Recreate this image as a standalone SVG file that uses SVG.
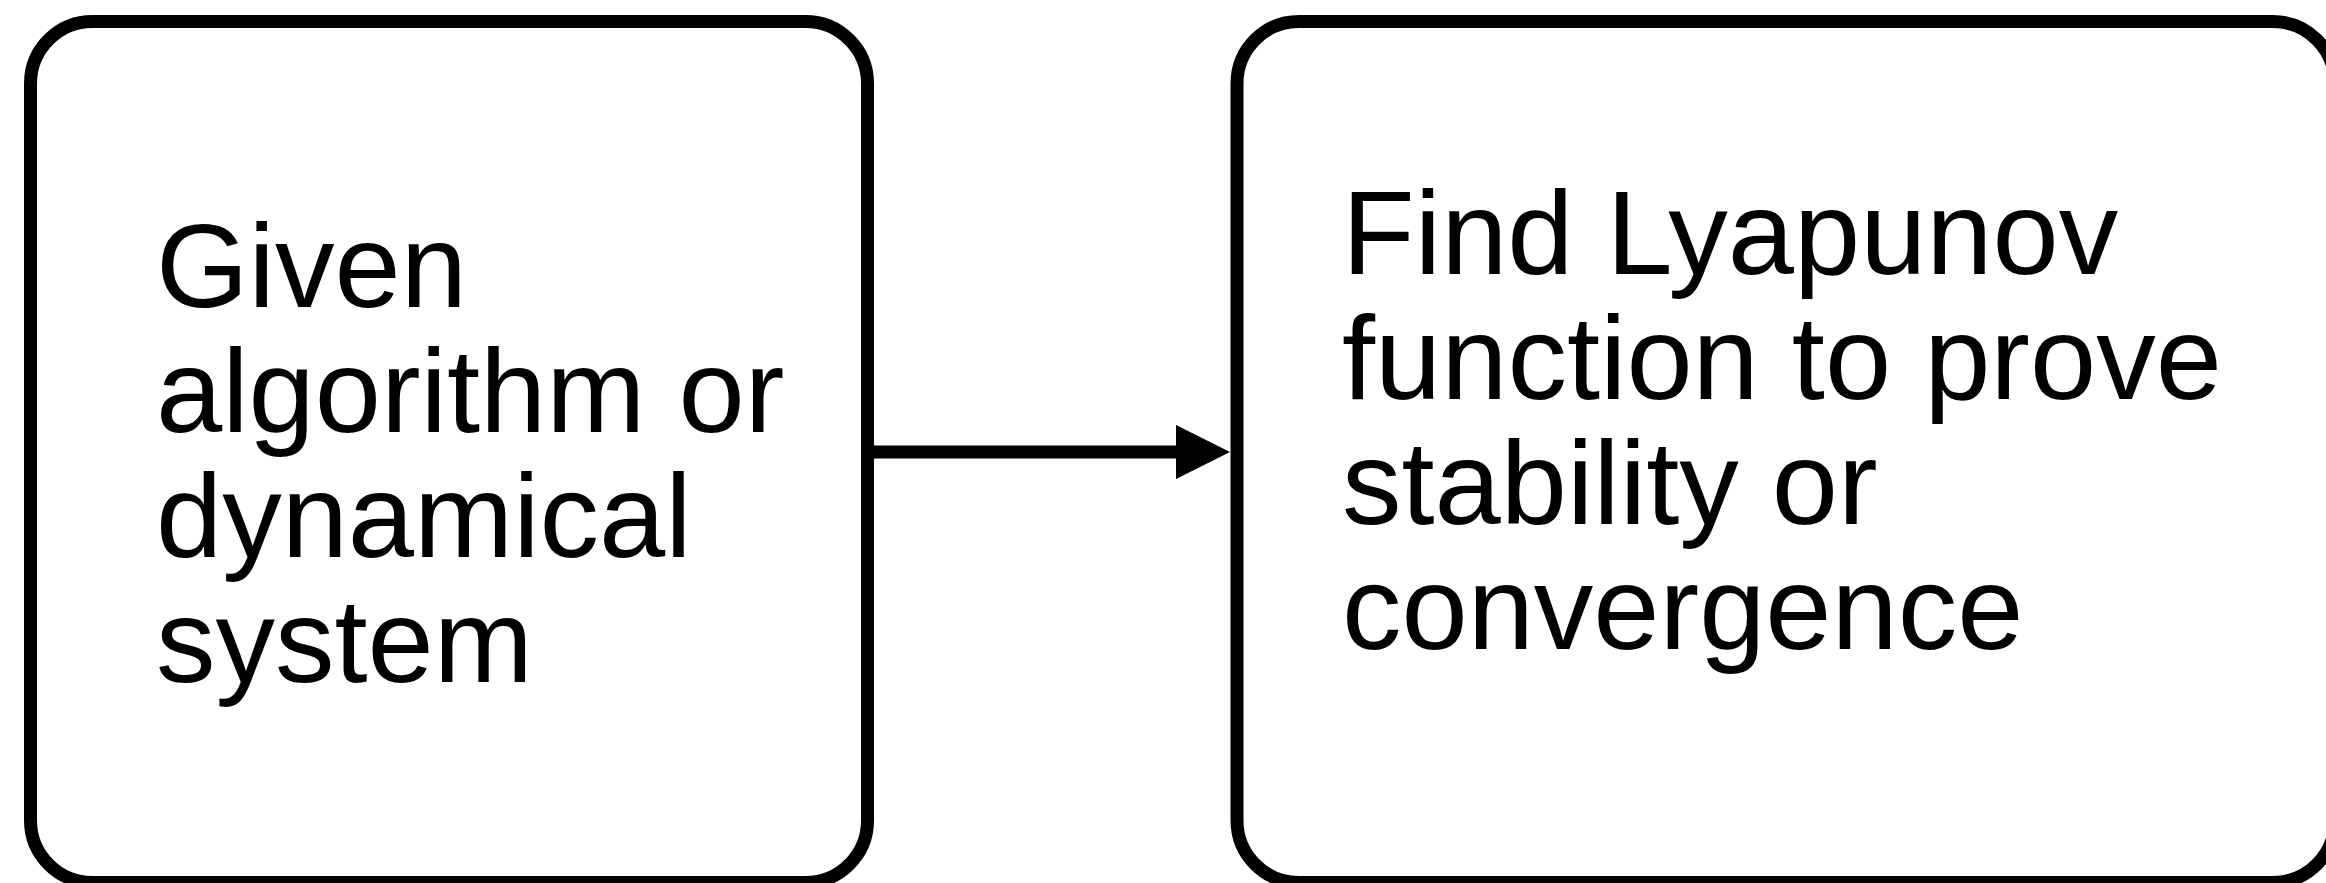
<svg xmlns="http://www.w3.org/2000/svg" width="2326" height="883" viewBox="0 0 2326 883">
<style>
.box{fill:#fff;stroke:#000;stroke-width:13}
.lbl{font-family:"Liberation Sans",Arial,Helvetica,sans-serif;font-size:119px;fill:#000}
.conn{stroke:#000;stroke-width:13;fill:none}
</style>
<rect width="2326" height="883" fill="#fff"/>
<g id="node-given">
<rect class="box" x="30.5" y="21.5" width="837" height="861" rx="62" ry="62"/>
<text class="lbl" x="156"><tspan x="156" y="307">Given</tspan><tspan x="156" y="432">algorithm or</tspan><tspan x="156" y="557">dynamical</tspan><tspan x="156" y="682">system</tspan></text>
</g>
<g id="node-lyapunov">
<rect class="box" x="1237" y="21.5" width="1098" height="861" rx="62" ry="62"/>
<text class="lbl" x="1342"><tspan x="1342" y="274">Find Lyapunov</tspan><tspan x="1342" y="399">function to prove</tspan><tspan x="1342" y="524">stability or</tspan><tspan x="1342" y="649">convergence</tspan></text>
</g>
<g id="connectors">
<line class="conn" x1="874" y1="452" x2="1180" y2="452"/>
<polygon points="1176,425 1230,452 1176,479" fill="#000"/>
</g>
</svg>
